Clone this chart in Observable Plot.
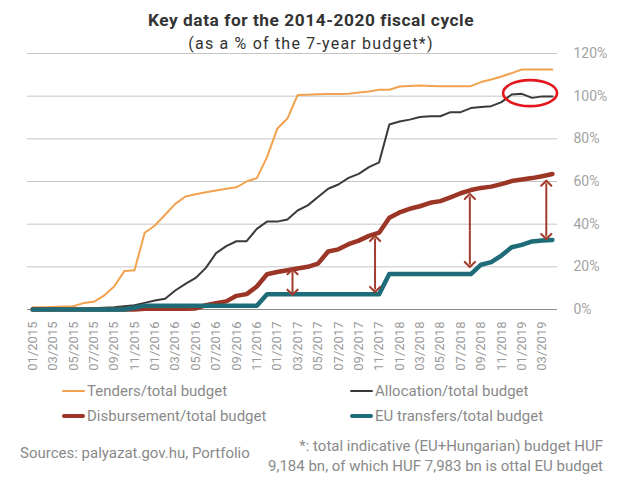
<!DOCTYPE html>
<html><head><meta charset="utf-8">
<script src="https://cdn.jsdelivr.net/npm/d3@7"></script>
<script src="https://cdn.jsdelivr.net/npm/@observablehq/plot@0.6"></script>
<style>
body{margin:0;background:#fff;font-family:Roboto,sans-serif;}
#wrap{position:relative;width:630px;height:492px;overflow:hidden;background:#fff;}
.ttl{position:absolute;left:0;width:622px;text-align:center;color:#333;line-height:1;white-space:nowrap;z-index:2;}
.lg{position:absolute;font-size:15px;line-height:18px;color:#8a8a8a;white-space:nowrap;}
.sw{position:absolute;}
#chart{position:absolute;left:0;top:48px;z-index:1;}
</style></head><body>
<div id="wrap">
  <div class="ttl" style="top:12px;font-size:17.3px;font-weight:bold;letter-spacing:0.55px;">Key data for the 2014-2020 fiscal cycle</div>
  <div class="ttl" style="top:36px;font-size:16px;letter-spacing:1.2px;">(as a % of the 7-year budget*)</div>
  <div id="chart"></div>
  <div id="legend"></div>
  <div class="lg" style="left:20px;top:444px;">Sources: palyazat.gov.hu, Portfolio</div>
  <div class="lg" style="right:27px;top:436px;line-height:20px;text-align:right;">*: total indicative (EU+Hungarian) budget HUF<br>9,184 bn, of which HUF 7,983 bn is ottal EU budget</div>
</div>
<script>
// ---- data ----
const months = ["01/2015","02/2015","03/2015","04/2015","05/2015","06/2015","07/2015","08/2015","09/2015","10/2015","11/2015","12/2015",
"01/2016","02/2016","03/2016","04/2016","05/2016","06/2016","07/2016","08/2016","09/2016","10/2016","11/2016","12/2016",
"01/2017","02/2017","03/2017","04/2017","05/2017","06/2017","07/2017","08/2017","09/2017","10/2017","11/2017","12/2017",
"01/2018","02/2018","03/2018","04/2018","05/2018","06/2018","07/2018","08/2018","09/2018","10/2018","11/2018","12/2018",
"01/2019","02/2019","03/2019","04/2019"];
const tickLabels = ["01/2015","03/2015","05/2015","07/2015","09/2015","11/2015","01/2016","03/2016","05/2016","07/2016","09/2016","11/2016",
"01/2017","03/2017","05/2017","07/2017","09/2017","11/2017","01/2018","03/2018","05/2018","07/2018","09/2018","11/2018","01/2019","03/2019"];
const yTicks = [0,20,40,60,80,100,120];
const seriesNames = ["Tenders/total budget","Allocation/total budget","Disbursement/total budget","EU transfers/total budget"];
const tenders = [1.0,1.1,1.2,1.4,1.5,3.0,3.6,6.5,10.8,18.0, 18.4,36.0,39.4,44.4,49.5,53.0,54.0,55.0,55.8,56.6,
 57.3,60.0,61.6,71.4,84.7,89.5,100.5,100.7,100.9,101.0, 101.0,101.1,101.7,102.2,103.0,103.0,104.5,104.8,105.0,104.8,
 104.6,104.6,104.6,104.7,106.6,107.8,109.2,110.8,112.5,112.5, 112.5,112.5];
const allocation = [0,0,0,0,0.2,0.3,0.6,0.8,1.0,1.5, 2.0,3.1,4.2,5.0,8.9,12.0,14.8,19.5,26.4,29.7,
 32.0,32.0,37.8,41.2,41.2,42.2,46.4,48.8,52.7,56.6, 58.6,61.7,63.6,66.7,69.0,86.7,88.1,89.0,90.2,90.6,
 90.6,92.5,92.5,94.4,94.9,95.3,97.2,100.8,101.1,99.2, 99.9,99.9];
const disbursement = [0,0,0,0,0,0,0,0,0,0, 0,0.3,0.3,0.3,0.3,0.3,0.5,2.0,3.0,3.8,
 6.4,7.2,10.8,16.5,17.6,18.4,19.2,20.0,21.5,27.2, 28.2,30.6,32.3,34.5,36.0,43.0,45.5,47.2,48.4,50.0,
 50.8,52.6,54.5,56.0,57.0,57.6,58.8,60.2,60.9,61.6, 62.5,63.5];
const transfers = [0,0,0,0,0,0,0,0,0,0, 0.8,1.8,1.8,1.8,1.8,1.8,1.8,1.8,1.8,1.8,
 1.8,1.8,1.8,7.2,7.2,7.2,7.2,7.2,7.2,7.2, 7.2,7.2,7.2,7.2,7.2,16.6,16.6,16.6,16.6,16.6,
 16.6,16.6,16.6,16.6,21.0,22.2,25.3,29.2,30.3,31.9, 32.3,32.6];
// gap annotations (month position, top %, bottom %)
const arrowPos = [25.5, 33.6, 42.9, 50.4];
const arrowTop = [17.7, 33.3, 53.0, 59.2];
const arrowBottom = [8.1, 9.4, 21.1, 34.2];
// highlighted point (month position, %)
const highlightPos = [48.86];
const highlightVal = [101.2];

const colors = ["#f2a24f", "#3a3a3a", "#9b3526", "#1d6c77"];
const widths = [2, 2, 4.5, 4.5];

const rows = months.map((m, i) => ({i, m, tenders: tenders[i], allocation: allocation[i], disbursement: disbursement[i], transfers: transfers[i]}));
const keys = ["tenders", "allocation", "disbursement", "transfers"];
// each double arrow = two half-arrows from the middle outward
const halfArrows = arrowPos.flatMap((x, k) => {
  const mid = (arrowTop[k] + arrowBottom[k]) / 2;
  return [{x, from: mid, to: arrowTop[k]}, {x, from: mid, to: arrowBottom[k]}];
});
const tickIdx = tickLabels.map(t => months.indexOf(t));

const chart = Plot.plot({
  width: 630, height: 332,
  marginTop: 5, marginBottom: 71, marginLeft: 27, marginRight: 73,
  style: {fontFamily: "Roboto, sans-serif", background: "transparent", overflow: "visible"},
  x: {domain: [-0.5, 51.5]},
  y: {domain: [0, 120]},
  marks: [
    Plot.gridY(yTicks, {stroke: "#c6c6c6", strokeOpacity: 1, strokeWidth: 1}),
    Plot.ruleY([0], {stroke: "#8c8c8c", strokeWidth: 1}),
    Plot.axisY({anchor: "right", ticks: yTicks, tickFormat: d => d + "%", tickSize: 0, tickPadding: 16, fontSize: 14, fill: "#a3a3a3", label: null}),
    Plot.axisX({ticks: tickIdx, tickFormat: i => months[i], tickRotate: -90, tickSize: 0, tickPadding: 12, fontSize: 13, fill: "#9a9a9a", label: null}),
    ...keys.map((k, s) => Plot.line(rows, {x: "i", y: k, stroke: colors[s], strokeWidth: widths[s], strokeLinejoin: "round"})),
    Plot.link(halfArrows, {x1: "x", x2: "x", y1: "from", y2: "to", stroke: "#a23b2c", strokeWidth: 2, markerEnd: "arrow"})
  ]
});
document.getElementById("chart").appendChild(chart);

// larger arrowheads
d3.select(chart).selectAll("marker")
  .attr("markerWidth", 8.5).attr("markerHeight", 8.5).attr("stroke-width", 1.2);

// red ellipse around highlighted allocation peak
const sx = chart.scale("x"), sy = chart.scale("y");
d3.select(chart).append("ellipse")
  .attr("cx", sx.apply(highlightPos[0]))
  .attr("cy", sy.apply(highlightVal[0]))
  .attr("rx", 27).attr("ry", 13)
  .attr("fill", "none").attr("stroke", "#e3161d").attr("stroke-width", 2.6);

// legend
const lg = document.getElementById("legend");
const pos = [[62, 391], [350, 391], [62, 416], [350, 416]];
seriesNames.forEach((name, s) => {
  const [x, y] = pos[s];
  const sw = document.createElement("div");
  sw.className = "sw";
  const h = s < 2 ? 2.2 : 4.5;
  sw.style.cssText = `left:${x}px;top:${y - h / 2}px;width:23px;height:${h}px;background:${colors[s]};border-radius:2px;`;
  lg.appendChild(sw);
  const t = document.createElement("div");
  t.className = "lg";
  t.style.left = (x + 25) + "px";
  t.style.top = (y - 9) + "px";
  t.textContent = name;
  lg.appendChild(t);
});
</script>
</body></html>
